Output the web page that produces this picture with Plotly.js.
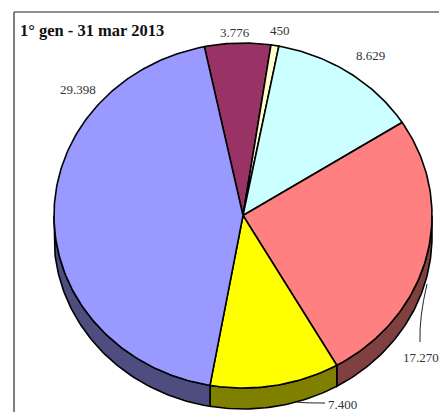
<!DOCTYPE html>
<html>
<head>
<meta charset="utf-8">
<script src="https://cdn.plot.ly/plotly-3.0.1.min.js"></script>
<style>html,body{margin:0;padding:0;background:#fff}#c{width:439px;height:412px}</style>
</head>
<body>
<div id="c"></div>
<script>
var categories = ['A', 'B', 'C', 'D', 'E', 'F'];
var values = [3776, 450, 8629, 17270, 7400, 29398];
var colors = ['#993366', '#FFFFCC', '#CCFFFF', '#FF8080', '#FFFF00', '#9999FF'];
var sideColors = ['#4D1A33', '#808066', '#668080', '#804040', '#808000', '#4D4D80'];
var titleText = '1° gen - 31 mar 2013';
var startAngle = -11.8;
var W = 439, H = 412, cx = 243, cy = 215.5, rx = 189, ry = 172.5, depth = 21;

function px(x) { return (x - cx) / rx; }
function py(y) { return (cy - y) / ry; }
function fmt(v) { return String(v).replace(/\B(?=(\d{3})+$)/g, '.'); }

var total = values.reduce(function (a, b) { return a + b; }, 0);
var d = depth / ry;
var topTraces = [], sideTraces = [], a0 = startAngle;

function arc(a, b) {
  var n = Math.max(2, Math.ceil(Math.abs(b - a))), xs = [], ys = [];
  for (var i = 0; i <= n; i++) {
    var t = (a + (b - a) * i / n) * Math.PI / 180;
    xs.push(Math.sin(t)); ys.push(Math.cos(t));
  }
  return [xs, ys];
}
function poly(xs, ys, fill, w) {
  return { type: 'scatter', mode: 'lines', x: xs, y: ys, fill: 'toself', fillcolor: fill,
    line: { color: '#000', width: w, shape: 'linear' }, hoverinfo: 'skip', showlegend: false };
}

values.forEach(function (v, i) {
  var a1 = a0 + v / total * 360;
  var s = Math.max(a0, 90), e = Math.min(a1, 270);
  if (e > s) {
    var p = arc(s, e);
    var bx = p[0].slice().reverse(), by = p[1].map(function (y) { return y - d; }).reverse();
    sideTraces.push(poly(p[0].concat(bx, [p[0][0]]), p[1].concat(by, [p[1][0]]), sideColors[i], 1.6));
  }
  var q = arc(a0, a1);
  topTraces.push(poly([0].concat(q[0], [0]), [0].concat(q[1], [0]), colors[i], 1.6));
  a0 = a1;
});

function label(v, x, y) {
  return { x: px(x), y: py(y), xref: 'x', yref: 'y', text: fmt(v), showarrow: false,
    xanchor: 'center', yanchor: 'middle', font: { family: 'Liberation Serif', size: 13, color: '#333' } };
}
var annotations = [
  label(values[0], 235, 32), label(values[1], 280, 30), label(values[2], 370, 55),
  label(values[3], 421, 357), label(values[4], 342, 404), label(values[5], 78, 89),
  { x: px(18), y: py(30), xref: 'x', yref: 'y', text: '<b>' + titleText + '</b>', showarrow: false,
    xanchor: 'left', yanchor: 'middle', font: { family: 'Liberation Serif', size: 16.5, color: '#111' } }
];
var leaders = [
  { type: 'path', xref: 'x', yref: 'y',
    path: 'M' + px(297) + ',' + py(402) + ' Q' + px(301) + ',' + py(403) + ' ' + px(325) + ',' + py(403),
    line: { color: '#222', width: 1 } },
  { type: 'path', xref: 'x', yref: 'y',
    path: 'M' + px(427) + ',' + py(284) + ' Q' + px(419) + ',' + py(318) + ' ' + px(420) + ',' + py(342),
    line: { color: '#222', width: 1 } },
  { type: 'line', xref: 'x', yref: 'y', x0: px(14), y0: py(12), x1: px(439), y1: py(12), line: { color: '#222', width: 1.2 } },
  { type: 'line', xref: 'x', yref: 'y', x0: px(14), y0: py(12), x1: px(14), y1: py(412), line: { color: '#555', width: 1.5 } }
];

Plotly.newPlot('c', sideTraces.concat(topTraces), {
  width: W, height: H, margin: { l: 0, r: 0, t: 0, b: 0 },
  paper_bgcolor: '#fff', plot_bgcolor: '#fff', showlegend: false,
  xaxis: { range: [px(0), px(W)], visible: false, fixedrange: true },
  yaxis: { range: [py(H), py(0)], visible: false, fixedrange: true },
  annotations: annotations, shapes: leaders
}, { staticPlot: true, displayModeBar: false });
</script>
</body>
</html>
